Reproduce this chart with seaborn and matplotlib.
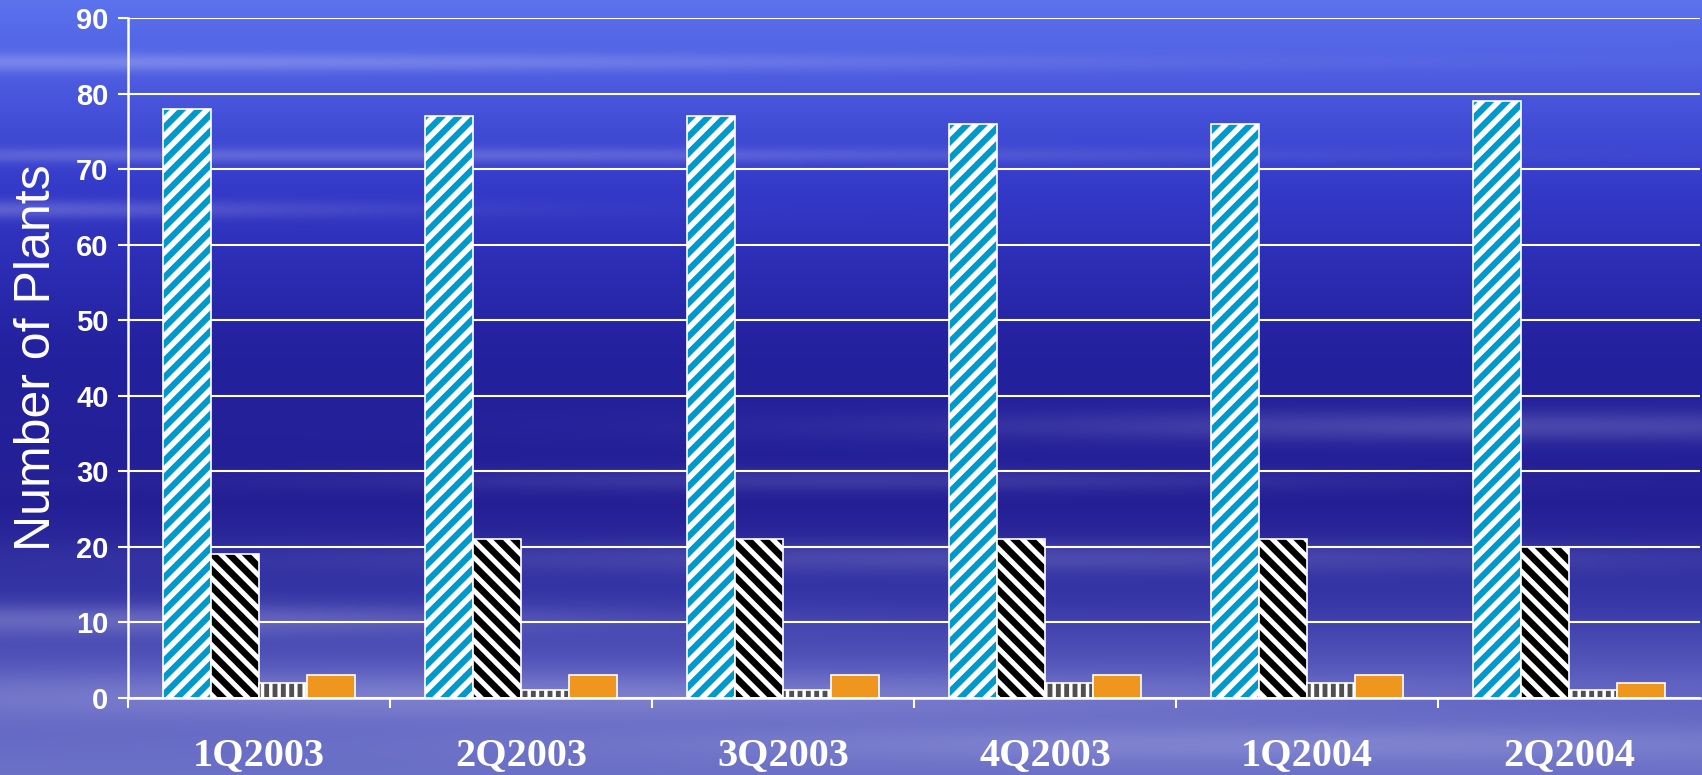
import numpy as np
import pandas as pd
import matplotlib
matplotlib.use("Agg")
import matplotlib.pyplot as plt
import seaborn as sns

quarters = ["1Q2003", "2Q2003", "3Q2003", "4Q2003", "1Q2004", "2Q2004"]
series = ["A", "B", "C", "D"]
vals_a = [78, 77, 77, 76, 76, 79]
vals_b = [19, 21, 21, 21, 21, 20]
vals_c = [2, 1, 1, 2, 2, 1]
vals_d = [3, 3, 3, 3, 3, 2]
y_ticks = [0, 10, 20, 30, 40, 50, 60, 70, 80, 90]

df = pd.DataFrame({
    "quarter": quarters * 4,
    "series": [s for s in series for _ in quarters],
    "value": vals_a + vals_b + vals_c + vals_d,
})

sns.set_theme(style="white")
plt.rcParams["hatch.linewidth"] = 4.0

fig = plt.figure(figsize=(17.02, 7.75), dpi=100)

# background: blue sky-ish gradient with soft light streaks
H, W = 775, 1702
yy = np.linspace(0, 1, H)[:, None]
xx = np.linspace(0, 1, W)[None, :]
stops = [0.0, 0.1, 0.25, 0.45, 0.65, 0.78, 0.88, 1.0]
cols = np.array([
    [0.36, 0.45, 0.93], [0.30, 0.36, 0.88], [0.20, 0.22, 0.78],
    [0.14, 0.13, 0.62], [0.14, 0.12, 0.58], [0.22, 0.22, 0.66],
    [0.36, 0.37, 0.75], [0.42, 0.44, 0.78]])
grad = np.stack([np.interp(yy[:, 0], stops, cols[:, k]) for k in range(3)], axis=-1)
img = np.repeat(grad[:, None, :], W, axis=1)
streaks = [(0.08, 0.012, 0.0, 0.6, 0.25), (0.2, 0.01, 0.2, 0.5, 0.2),
           (0.27, 0.012, -0.1, 0.3, 0.25), (0.55, 0.02, 0.9, 0.35, 0.18),
           (0.62, 0.015, 0.5, 0.3, 0.12), (0.72, 0.02, 0.6, 0.4, 0.15),
           (0.80, 0.02, 0.05, 0.3, 0.22), (0.90, 0.03, 0.3, 0.5, 0.2),
           (0.96, 0.025, 0.75, 0.4, 0.18)]
for cy, sy, cx, sx, amp in streaks:
    g = amp * np.exp(-((yy - cy) / sy) ** 2) * np.exp(-((xx - cx) / sx) ** 2)
    img = img + g[:, :, None] * (np.array([0.95, 0.95, 1.0]) - img)
img = np.clip(img, 0, 1)
bg = fig.add_axes([0, 0, 1, 1], zorder=-1)
bg.imshow(img, aspect="auto", extent=[0, 1, 0, 1])
bg.axis("off")

ax = fig.add_axes([0.0752, 0.0994, 0.9236, 0.8774])
ax.set_facecolor("none")

sns.barplot(data=df, x="quarter", y="value", hue="series", order=quarters,
            hue_order=series, width=0.733, dodge=True, legend=False, ax=ax)

styles = [
    dict(face="#0099cc", hatch="//", hlw=4.0),
    dict(face="black", hatch="\\\\", hlw=3.6),
    dict(face="#505050", hatch="||", hlw=2.5),
    dict(face="#ef961f", hatch=None, hlw=1.0),
]
for cont, st in zip(ax.containers, styles):
    for p in cont:
        p.set_facecolor(st["face"])
        p.set_edgecolor("white")
        p.set_linewidth(1.2)
        if st["hatch"]:
            p.set_hatch(st["hatch"])
            if hasattr(p, "set_hatch_linewidth"):
                p.set_hatch_linewidth(st["hlw"])
        p.set_zorder(3)

ax.set_xlim(-0.5, 5.5)
ax.set_ylim(0, 90)
ax.set_yticks(y_ticks)
ax.yaxis.grid(True, color="white", linewidth=1.5)
ax.set_axisbelow(True)

for s in ["top", "right"]:
    ax.spines[s].set_visible(False)
for s in ["left", "bottom"]:
    ax.spines[s].set_color("white")
    ax.spines[s].set_linewidth(1.8)
    ax.spines[s].set_zorder(4)

ax.tick_params(axis="y", which="major", left=True, length=7, width=1.5,
               color="white", pad=7, labelcolor="white")
for lab in ax.get_yticklabels():
    lab.set_fontfamily("Liberation Sans")
    lab.set_fontweight("bold")
    lab.set_fontsize(21)

ax.set_xticks(range(len(quarters)))
ax.set_xticklabels(quarters, fontfamily="Liberation Serif", fontweight="bold",
                   fontsize=29, color="white")
ax.tick_params(axis="x", which="major", bottom=False, length=0, pad=28)
ax.set_xticks(np.arange(-0.5, 5.0, 1.0), minor=True)
ax.tick_params(axis="x", which="minor", bottom=True, length=7, width=1.5,
               color="white")

ax.set_xlabel("")
ax.set_ylabel("Number of Plants", fontfamily="Liberation Sans", fontsize=36,
              color="white")
ax.yaxis.set_label_coords(-0.043, 0.5)

fig.savefig("out.png", dpi=100)
